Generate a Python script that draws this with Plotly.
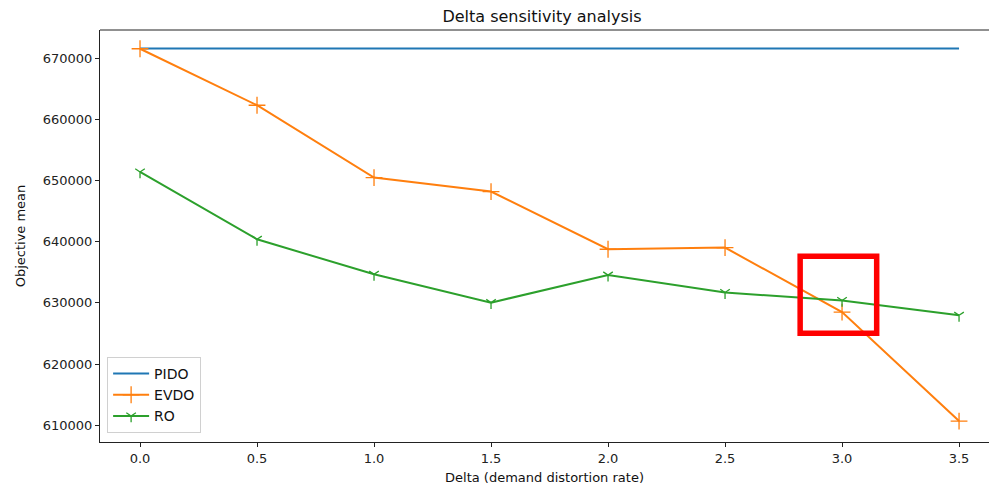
import plotly.graph_objects as go

delta = [0.0, 0.5, 1.0, 1.5, 2.0, 2.5, 3.0, 3.5]
pido = [671640] * 8
evdo = [671600, 662350, 650510, 648220, 638780, 639050, 628500, 610660]
ro = [651430, 640410, 634680, 630050, 634550, 631700, 630400, 627970]
x_ticks = [0.0, 0.5, 1.0, 1.5, 2.0, 2.5, 3.0, 3.5]
x_tick_labels = ["0.0", "0.5", "1.0", "1.5", "2.0", "2.5", "3.0", "3.5"]
y_ticks = [610000, 620000, 630000, 640000, 650000, 660000, 670000]
y_tick_labels = [str(v) for v in y_ticks]
highlight_x = [2.821, 3.148]
highlight_y = [625020, 637630]

FONT = "DejaVu Sans"
fig = go.Figure()
fig.add_trace(go.Scatter(x=delta, y=pido, mode="lines", name="PIDO",
                         line=dict(color="#1f77b4", width=2)))
fig.add_trace(go.Scatter(x=delta, y=evdo, mode="lines+markers", name="EVDO",
                         line=dict(color="#ff7f0e", width=2),
                         marker=dict(symbol="cross-thin", size=12,
                                     line=dict(color="#ff7f0e", width=1.3))))
fig.add_trace(go.Scatter(x=delta, y=ro, mode="lines+markers", name="RO",
                         line=dict(color="#2ca02c", width=2),
                         marker=dict(symbol="y-down", size=8,
                                     line=dict(color="#2ca02c", width=1.3))))

fig.add_shape(type="rect", xref="x", yref="y",
              x0=highlight_x[0], x1=highlight_x[1],
              y0=highlight_y[0], y1=highlight_y[1],
              line=dict(color="#ff0000", width=5.5))
# top spine
fig.add_shape(type="line", xref="paper", yref="paper", x0=0, x1=1, y0=1, y1=1,
              line=dict(color="#222", width=1))

fig.update_layout(
    width=989, height=489,
    margin=dict(l=100, r=0, t=30, b=47),
    paper_bgcolor="white", plot_bgcolor="white",
    font=dict(family=FONT, size=13, color="#222"),
    title=dict(text="Delta sensitivity analysis", x=0.548, xanchor="center",
               y=1 - 16 / 489, yanchor="middle",
               font=dict(family=FONT, size=16, color="#111")),
    showlegend=True,
    legend=dict(x=0.008, y=0.022, xanchor="left", yanchor="bottom",
                bgcolor="rgba(255,255,255,0.8)", bordercolor="#d0d0d0",
                borderwidth=1, font=dict(family=FONT, size=14, color="#111"),
                tracegroupgap=0, itemwidth=36),
)
fig.update_xaxes(range=[-0.171, 3.628], tickmode="array", tickvals=x_ticks,
                 ticktext=x_tick_labels, showgrid=False, zeroline=False,
                 showline=True, linecolor="#222", linewidth=1,
                 ticks="outside", ticklen=4, tickcolor="#222",
                 title=dict(text="Delta (demand distortion rate)",
                            font=dict(family=FONT, size=13, color="#111"),
                            standoff=8))
fig.update_yaxes(range=[607235, 674665], tickmode="array", tickvals=y_ticks,
                 ticktext=y_tick_labels, showgrid=False, zeroline=False,
                 showline=True, linecolor="#222", linewidth=1,
                 ticks="outside", ticklen=4, tickcolor="#222",
                 title=dict(text="Objective mean",
                            font=dict(family=FONT, size=13, color="#111"),
                            standoff=14))

fig.write_html("out.html")
